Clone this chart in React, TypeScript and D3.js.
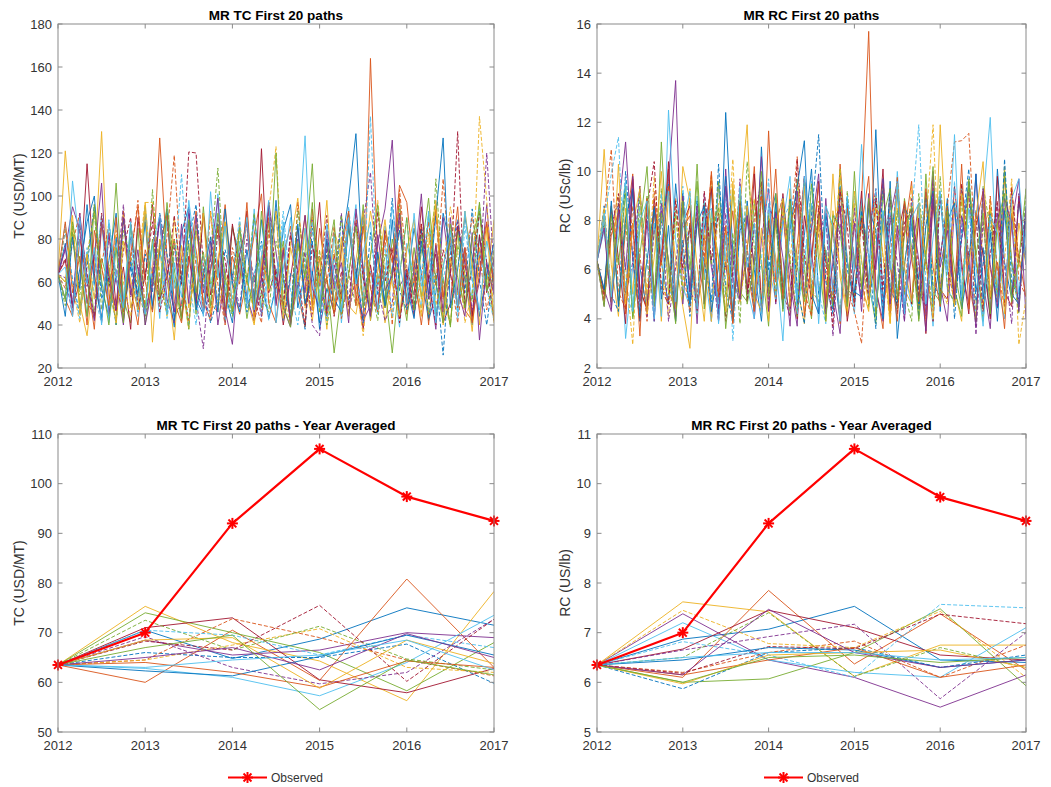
import React from 'react';
import * as d3 from 'd3';

// MATLAB default colour order
const palette = ['#0072BD', '#D95319', '#EDB120', '#7E2F8E', '#77AC30', '#4DBEEE', '#A2142F'];

const years = [2012, 2013, 2014, 2015, 2016, 2017];
const tcMonthlyTicks = [20, 40, 60, 80, 100, 120, 140, 160, 180];
const rcMonthlyTicks = [2, 4, 6, 8, 10, 12, 14, 16];
const tcYearTicks = [50, 60, 70, 80, 90, 100, 110];
const rcYearTicks = [5, 6, 7, 8, 9, 10, 11];

// ---- TC simulated monthly paths (USD/MT), Jan 2012 .. Jan 2017 ----
const tc01 = [63.5, 78, 49, 66, 88, 100, 57, 44, 81, 42, 70, 53, 92, 47, 74, 61, 39, 83, 95, 52, 45, 66, 87, 55, 41, 72, 50, 91, 62, 43, 58, 84, 96, 48, 65, 79, 38, 57, 46, 76, 99, 129, 62, 44, 73, 51, 89, 45, 60, 85, 64, 42, 55, 92, 77, 48, 63, 40, 81, 61, 70];
const tc02 = [63.5, 52, 44, 80, 62, 38, 86, 66, 47, 93, 57, 40, 75, 64, 127, 71, 46, 49, 88, 75, 51, 42, 67, 96, 58, 45, 61, 82, 101, 50, 41, 73, 86, 55, 39, 94, 58, 79, 46, 60, 92, 54, 43, 164, 70, 48, 63, 99, 45, 61, 87, 40, 78, 52, 66, 95, 47, 42, 71, 88, 56];
const tc03 = [63.5, 121, 82, 50, 35, 66, 130, 54, 43, 91, 48, 60, 97, 58, 76, 44, 90, 61, 39, 83, 64, 50, 46, 88, 62, 85, 52, 40, 69, 95, 59, 47, 78, 99, 60, 42, 71, 38, 84, 72, 49, 45, 65, 93, 74, 41, 63, 90, 51, 62, 44, 77, 98, 53, 40, 86, 63, 37, 76, 59, 89];
const tc04 = [63.5, 75, 95, 84, 50, 72, 106, 45, 62, 40, 81, 66, 47, 60, 89, 52, 41, 71, 92, 57, 46, 79, 40, 63, 85, 72, 53, 42, 61, 97, 74, 48, 39, 80, 55, 90, 62, 44, 68, 53, 87, 66, 42, 49, 78, 94, 126, 58, 64, 44, 83, 61, 38, 90, 64, 49, 76, 45, 60, 96, 55];
const tc05 = [63.5, 60, 83, 48, 73, 44, 71, 58, 106, 52, 41, 85, 40, 64, 50, 92, 61, 42, 78, 45, 95, 59, 66, 46, 86, 70, 43, 63, 48, 88, 60, 79, 41, 58, 74, 115, 50, 62, 27, 55, 85, 60, 96, 43, 64, 48, 80, 61, 42, 76, 53, 91, 45, 62, 39, 84, 48, 69, 97, 56, 63];
const tc06 = [63.5, 52, 107, 76, 44, 62, 91, 41, 66, 52, 85, 47, 64, 77, 43, 90, 57, 70, 39, 86, 62, 48, 101, 60, 45, 79, 50, 94, 44, 63, 55, 88, 40, 74, 128, 52, 64, 47, 83, 41, 72, 96, 50, 65, 45, 86, 62, 39, 78, 63, 48, 93, 42, 67, 84, 46, 73, 52, 94, 69, 44];
const tc07 = [63.5, 70, 48, 60, 115, 64, 42, 83, 49, 67, 38, 90, 61, 96, 52, 63, 80, 43, 72, 50, 92, 54, 70, 41, 87, 64, 93, 47, 122, 55, 66, 40, 62, 85, 49, 63, 97, 45, 73, 52, 88, 61, 38, 68, 47, 84, 72, 43, 66, 54, 95, 61, 73, 41, 50, 86, 69, 44, 82, 55, 71];
const tc08 = [63.5, 84, 61, 45, 67, 96, 52, 63, 40, 89, 66, 46, 73, 55, 92, 73, 44, 49, 80, 96, 57, 41, 53, 75, 61, 87, 46, 63, 79, 58, 94, 42, 64, 60, 38, 85, 62, 73, 45, 91, 50, 66, 41, 83, 54, 62, 99, 56, 47, 60, 85, 43, 64, 26, 73, 89, 55, 94, 61, 40, 66];
const tc09 = [63.5, 57, 78, 92, 51, 44, 68, 87, 63, 43, 70, 98, 46, 61, 54, 81, 119, 62, 42, 72, 48, 93, 59, 40, 76, 63, 89, 52, 41, 84, 57, 64, 42, 97, 61, 45, 72, 59, 86, 43, 62, 92, 48, 64, 57, 81, 40, 103, 67, 45, 62, 88, 58, 108, 64, 41, 69, 90, 73, 47, 63];
const tc10 = [63.5, 85, 58, 41, 73, 92, 67, 49, 84, 60, 44, 69, 97, 97, 63, 45, 80, 59, 38, 86, 61, 93, 47, 64, 52, 88, 60, 46, 71, 93, 123, 54, 40, 79, 48, 90, 62, 42, 75, 51, 89, 60, 35, 72, 98, 64, 43, 87, 61, 70, 46, 83, 49, 66, 95, 74, 41, 55, 137, 98, 42];
const tc11 = [63.5, 62, 45, 90, 58, 74, 41, 82, 60, 96, 53, 68, 44, 63, 91, 46, 76, 59, 94, 52, 29, 71, 89, 45, 64, 48, 80, 61, 44, 97, 62, 49, 83, 57, 74, 40, 35, 76, 59, 92, 45, 63, 88, 111, 57, 42, 50, 90, 61, 46, 77, 60, 93, 42, 64, 88, 69, 47, 62, 120, 65];
const tc12 = [63.5, 49, 86, 54, 71, 93, 47, 68, 40, 84, 72, 58, 43, 103, 60, 45, 79, 62, 38, 87, 58, 73, 113, 56, 44, 77, 60, 92, 53, 46, 79, 64, 45, 93, 68, 50, 75, 40, 56, 91, 64, 49, 87, 58, 42, 73, 61, 96, 49, 68, 82, 45, 108, 60, 40, 77, 64, 51, 97, 59, 43];
const tc13 = [63.5, 87, 60, 43, 76, 54, 41, 89, 62, 48, 81, 44, 95, 59, 78, 43, 65, 110, 61, 40, 72, 57, 86, 42, 63, 90, 48, 64, 77, 42, 61, 93, 56, 40, 69, 88, 55, 42, 71, 57, 95, 60, 49, 137, 58, 77, 44, 63, 90, 49, 64, 92, 46, 61, 78, 43, 86, 60, 74, 57, 42];
const tc14 = [63.5, 71, 49, 87, 64, 43, 92, 60, 46, 75, 90, 48, 63, 88, 46, 62, 91, 59, 120.5, 120, 67, 44, 84, 70, 47, 63, 88, 42, 55, 96, 61, 49, 82, 64, 40, 77, 62, 91, 44, 65, 49, 88, 62, 46, 93, 60, 76, 41, 64, 48, 87, 61, 40, 75, 63, 130, 49, 66, 92, 69, 42];
const tc15 = [63.5, 44, 81, 57, 96, 60, 43, 70, 92, 48, 67, 55, 88, 49, 75, 94, 42, 62, 88, 47, 63, 81, 46, 94, 60, 46, 75, 52, 89, 58, 98, 61, 43, 87, 50, 65, 41, 80, 52, 46, 88, 60, 93, 42, 74, 49, 66, 84, 58, 43, 79, 54, 91, 127, 48, 66, 90, 72, 44, 64, 78];
const tc16 = [63.5, 88, 55, 72, 40, 84, 67, 49, 90, 46, 73, 95, 60, 46, 77, 91, 51, 41, 69, 93, 48, 65, 86, 44, 72, 59, 97, 44, 66, 90, 50, 76, 41, 62, 91, 48, 85, 61, 45, 75, 93, 49, 86, 57, 46, 82, 69, 105, 97, 64, 40, 68, 94, 53, 81, 48, 76, 41, 64, 87, 60];
const tc17 = [63.5, 60, 91, 45, 73, 52, 88, 66, 41, 79, 61, 47, 95, 32, 80, 62, 33, 77, 48, 64, 92, 45, 71, 88, 47, 64, 89, 41, 72, 56, 93, 43, 76, 60, 85, 47, 63, 98, 47, 81, 44, 70, 93, 42, 65, 89, 59, 44, 75, 89, 52, 67, 96, 40, 71, 54, 93, 68, 40, 85, 41];
const tc18 = [63.5, 76, 49, 92, 61, 42, 88, 63, 47, 90, 54, 75, 40, 58, 91, 64, 46, 87, 50, 91, 55, 72, 99, 47, 31, 73, 88, 46, 62, 95, 49, 75, 40, 67, 91, 57, 48, 84, 57, 69, 41, 94, 66, 44, 82, 56, 63, 92, 49, 65, 101, 52, 77, 46, 90, 56, 44, 83, 33, 69, 54];
const tc19 = [63.5, 52, 88, 69, 44, 96, 61, 40, 76, 41, 87, 61, 48, 80, 53, 97, 66, 43, 89, 55, 74, 49, 92, 62, 46, 85, 61, 48, 93, 57, 120, 49, 39, 78, 62, 97, 46, 70, 89, 45, 64, 86, 48, 72, 96, 57, 27, 63, 90, 47, 74, 99, 60, 41, 87, 62, 48, 81, 93, 56, 75];
const tc20 = [63.5, 67, 44, 90, 59, 76, 40, 88, 62, 48, 88, 60, 45, 77, 91, 46, 69, 53, 98, 71, 44, 102, 62, 86, 49, 64, 90, 47, 72, 98, 41, 66, 90, 53, 85, 61, 48, 87, 62, 46, 90, 59, 74, 88, 47, 63, 95, 69, 50, 92, 58, 76, 41, 67, 83, 49, 93, 61, 47, 79, 64];
const tcPaths = [tc01, tc02, tc03, tc04, tc05, tc06, tc07, tc08, tc09, tc10, tc11, tc12, tc13, tc14, tc15, tc16, tc17, tc18, tc19, tc20];

// ---- RC simulated monthly paths (USc/lb), Jan 2012 .. Jan 2017 ----
const rc01 = [6.35, 7.9, 4.8, 8.7, 5.0, 9.2, 6.1, 4.3, 8.6, 6.3, 4.6, 9.5, 6.6, 4.5, 8.1, 5.6, 9.4, 4.2, 12.4, 6.7, 4.8, 8.8, 6.0, 3.9, 7.8, 9.1, 5.2, 8.9, 4.6, 7.4, 10.1, 5.0, 6.8, 4.4, 9.3, 6.3, 4.9, 8.3, 5.4, 11.7, 4.7, 7.1, 9.2, 4.2, 7.9, 5.6, 9.0, 4.5, 6.4, 8.9, 4.6, 7.3, 9.6, 5.1, 6.9, 4.1, 10.1, 6.3, 4.8, 8.8, 6.6];
const rc02 = [6.35, 5.1, 8.6, 4.6, 7.6, 9.9, 5.2, 4.4, 8.3, 6.2, 10.1, 4.9, 6.9, 8.9, 4.5, 7.4, 3.9, 9.6, 6.1, 8.4, 4.8, 6.8, 10.2, 4.4, 11.65, 5.5, 8.9, 4.5, 7.0, 9.7, 4.2, 8.1, 5.6, 4.7, 10.3, 6.4, 4.6, 8.8, 15.7, 5.3, 3.6, 8.9, 4.9, 7.5, 9.6, 4.4, 6.6, 8.7, 5.0, 7.9, 4.6, 9.4, 5.5, 3.9, 8.7, 6.0, 4.8, 9.8, 6.3, 4.5, 8.4];
const rc03 = [6.35, 10.9, 6.2, 4.1, 8.5, 5.0, 9.4, 4.6, 7.8, 3.9, 9.1, 6.4, 4.5, 2.8, 8.3, 5.6, 9.8, 4.4, 7.7, 4.0, 8.6, 11.9, 5.0, 4.3, 8.2, 6.5, 4.6, 9.3, 5.3, 3.8, 8.6, 6.9, 4.5, 9.9, 5.7, 4.1, 8.7, 5.4, 4.3, 9.0, 6.6, 4.0, 9.6, 5.2, 4.6, 8.5, 6.4, 9.8, 4.7, 8.2, 5.2, 3.9, 9.4, 6.5, 4.4, 8.9, 5.0, 10.2, 4.6, 7.9, 6.2];
const rc04 = [6.35, 5.2, 4.3, 8.4, 11.2, 6.4, 3.9, 8.9, 5.1, 6.6, 9.6, 13.7, 4.6, 7.9, 3.8, 8.7, 6.1, 4.4, 10.1, 5.6, 4.7, 8.5, 4.0, 7.2, 9.3, 4.6, 8.2, 5.5, 3.7, 9.8, 6.7, 4.2, 8.9, 5.1, 3.4, 8.6, 6.4, 4.8, 9.1, 5.2, 3.9, 8.1, 9.6, 4.5, 6.6, 8.7, 4.1, 10.0, 5.4, 3.9, 8.5, 6.0, 4.6, 9.9, 5.5, 3.6, 8.3, 4.9, 7.8, 9.7, 4.0];
const rc05 = [6.35, 8.2, 4.7, 7.2, 9.4, 4.1, 6.6, 9.0, 4.5, 11.2, 5.9, 3.9, 8.6, 5.2, 10.3, 4.6, 8.4, 6.4, 4.1, 9.3, 5.1, 4.7, 8.8, 6.2, 3.7, 9.1, 5.4, 4.3, 9.7, 6.0, 4.0, 8.3, 6.7, 4.5, 10.1, 5.2, 4.9, 8.6, 5.5, 3.8, 9.2, 6.2, 4.4, 8.9, 6.9, 4.0, 9.9, 5.1, 4.7, 8.6, 5.2, 4.1, 9.6, 6.6, 3.9, 8.5, 4.8, 10.0, 6.3, 4.5, 8.2];
const rc06 = [6.35, 7.6, 5.0, 8.6, 3.2, 6.1, 9.3, 4.6, 7.9, 4.1, 12.5, 7.2, 5.3, 4.5, 9.0, 6.0, 3.9, 9.6, 6.5, 4.4, 8.2, 5.3, 4.0, 9.2, 6.1, 4.8, 7.9, 9.8, 4.3, 6.3, 8.7, 3.8, 8.1, 5.0, 9.4, 6.4, 4.2, 8.9, 5.3, 4.1, 8.4, 4.9, 10.0, 6.0, 4.5, 8.6, 6.6, 3.7, 9.1, 5.2, 4.7, 9.3, 6.4, 4.3, 8.8, 12.2, 5.4, 4.0, 8.2, 5.0, 7.6];
const rc07 = [6.35, 5.0, 8.5, 6.5, 3.8, 9.7, 5.2, 4.4, 8.9, 6.2, 10.4, 4.6, 7.9, 8.6, 4.3, 7.7, 9.3, 4.8, 6.3, 3.9, 8.8, 5.1, 9.9, 4.5, 8.0, 4.7, 9.1, 6.1, 4.0, 8.2, 6.5, 9.6, 4.4, 7.8, 8.6, 3.9, 6.0, 9.2, 4.9, 6.4, 10.1, 4.2, 7.3, 8.7, 4.6, 8.1, 3.4, 8.9, 5.2, 4.8, 9.4, 6.3, 4.2, 8.4, 6.6, 4.0, 9.8, 5.1, 4.5, 9.0, 6.2];
const rc08 = [6.35, 8.6, 5.0, 4.3, 10.0, 6.5, 3.9, 8.3, 4.9, 7.9, 9.5, 4.6, 7.2, 4.1, 8.8, 6.3, 4.7, 10.3, 5.2, 3.9, 8.5, 6.6, 4.4, 9.3, 6.0, 8.1, 4.5, 8.9, 5.3, 3.8, 8.2, 11.5, 5.5, 4.2, 9.4, 6.0, 4.8, 8.4, 6.6, 3.6, 9.7, 5.2, 4.6, 8.6, 7.8, 4.1, 9.2, 5.4, 4.9, 8.7, 4.0, 7.7, 10.1, 4.7, 6.2, 8.3, 4.4, 10.5, 5.5, 4.8, 8.2];
const rc09 = [6.35, 8.2, 10.9, 5.1, 4.4, 8.6, 6.6, 3.9, 9.2, 5.4, 4.7, 8.9, 6.0, 4.3, 8.3, 6.5, 9.9, 4.9, 7.2, 3.8, 8.7, 6.9, 4.5, 9.5, 5.1, 8.2, 4.6, 7.6, 10.6, 5.1, 4.1, 8.5, 6.4, 4.8, 9.3, 5.2, 4.3, 3.0, 7.8, 9.0, 4.4, 6.4, 9.8, 5.0, 8.4, 6.1, 3.9, 9.2, 6.5, 8.6, 11.2, 11.25, 11.55, 6.3, 4.2, 9.0, 6.0, 4.5, 9.4, 5.6, 4.9];
const rc10 = [6.35, 7.9, 4.5, 9.0, 6.1, 2.95, 8.5, 5.0, 9.8, 6.4, 4.1, 8.2, 5.3, 9.3, 4.8, 7.6, 3.9, 8.7, 6.0, 10.5, 4.6, 6.9, 8.9, 4.2, 7.4, 4.9, 8.4, 6.3, 9.6, 4.2, 7.7, 8.8, 4.5, 6.1, 10.1, 4.7, 8.0, 5.3, 4.4, 9.1, 6.5, 3.8, 8.5, 6.0, 9.4, 4.8, 7.8, 11.9, 5.3, 4.6, 8.8, 5.1, 9.2, 4.0, 7.7, 8.5, 4.7, 6.4, 9.7, 2.95, 4.8];
const rc11 = [6.35, 4.5, 7.9, 8.7, 5.0, 6.3, 9.4, 4.1, 7.6, 8.4, 3.9, 6.1, 9.0, 5.1, 4.6, 9.1, 6.4, 3.9, 8.3, 5.2, 9.7, 4.7, 7.9, 4.3, 8.6, 7.8, 9.0, 4.4, 6.1, 9.8, 4.9, 7.5, 8.2, 3.3, 7.9, 4.6, 8.5, 4.9, 7.4, 9.3, 4.3, 8.1, 6.3, 3.9, 8.9, 5.1, 4.5, 9.5, 6.6, 8.3, 4.8, 7.2, 9.2, 3.35, 8.0, 4.9, 8.6, 6.1, 3.8, 9.1, 6.4];
const rc12 = [6.35, 5.1, 8.6, 4.7, 8.0, 4.1, 9.0, 6.3, 4.5, 9.3, 5.0, 8.4, 4.8, 7.9, 4.2, 8.7, 6.2, 9.6, 4.9, 7.5, 3.8, 10.4, 6.9, 4.6, 8.3, 5.0, 8.9, 6.4, 4.1, 9.7, 5.2, 4.7, 8.6, 7.7, 4.0, 9.2, 6.3, 8.2, 4.5, 7.6, 9.5, 4.9, 8.4, 5.1, 3.9, 9.1, 6.5, 4.4, 9.8, 5.3, 4.6, 8.8, 6.0, 3.9, 9.4, 7.7, 4.9, 8.5, 6.3, 4.2, 9.3];
const rc13 = [6.35, 8.0, 9.9, 11.4, 5.0, 4.3, 8.6, 6.5, 3.9, 9.1, 5.2, 4.7, 9.4, 6.3, 4.2, 8.8, 7.9, 4.6, 9.2, 3.1, 7.7, 8.4, 4.4, 6.4, 9.7, 4.8, 8.0, 8.7, 4.2, 6.2, 9.6, 5.1, 3.8, 8.3, 7.7, 4.5, 9.0, 6.3, 4.9, 9.3, 4.1, 8.6, 5.2, 4.6, 8.1, 11.9, 5.4, 4.3, 8.8, 6.0, 9.6, 4.7, 7.9, 8.4, 3.9, 7.6, 4.8, 9.1, 6.2, 4.4, 8.3];
const rc14 = [6.35, 4.8, 7.6, 9.1, 4.4, 7.9, 4.0, 8.5, 10.4, 5.2, 4.6, 8.8, 6.0, 7.8, 4.3, 9.2, 6.4, 8.3, 3.9, 6.0, 8.7, 4.7, 8.1, 9.6, 4.5, 8.4, 5.1, 4.1, 10.5, 6.6, 4.8, 8.6, 6.3, 3.7, 9.2, 7.8, 4.5, 8.1, 4.6, 8.9, 5.2, 9.3, 4.2, 7.9, 8.5, 4.9, 6.4, 3.9, 9.0, 6.1, 4.7, 9.5, 6.5, 8.2, 4.3, 6.6, 8.8, 4.5, 9.3, 6.3, 8.4];
const rc15 = [6.35, 5.2, 8.8, 4.5, 8.1, 9.3, 4.1, 6.4, 8.5, 4.8, 7.8, 3.9, 9.1, 4.6, 7.9, 8.6, 4.3, 6.1, 9.8, 4.0, 7.6, 8.2, 4.7, 11.0, 5.3, 8.7, 4.4, 7.7, 9.4, 11.25, 5.0, 4.2, 8.3, 6.4, 3.9, 8.9, 5.1, 4.9, 8.5, 7.6, 4.0, 9.6, 3.2, 6.2, 8.3, 4.6, 7.8, 9.2, 4.3, 8.0, 8.7, 4.4, 6.2, 9.9, 4.8, 7.5, 3.9, 8.4, 5.0, 4.6, 8.6];
const rc16 = [6.35, 4.7, 7.4, 8.3, 4.2, 7.9, 3.3, 8.9, 5.0, 6.4, 9.4, 4.4, 7.7, 8.2, 4.5, 6.2, 10.0, 4.9, 7.8, 3.8, 8.6, 6.1, 4.3, 9.0, 6.4, 10.1, 4.8, 7.9, 8.7, 4.1, 6.3, 9.5, 4.6, 7.9, 3.8, 8.5, 6.0, 7.7, 9.8, 4.3, 8.2, 6.2, 3.9, 8.8, 6.4, 4.7, 9.3, 6.1, 4.5, 8.5, 5.0, 10.3, 4.4, 7.8, 9.2, 4.8, 6.3, 3.6, 8.3, 6.5, 4.9];
const rc17 = [6.35, 8.5, 5.0, 10.3, 4.6, 7.8, 9.3, 4.2, 6.5, 10.0, 5.1, 4.4, 10.2, 8.8, 6.2, 3.9, 8.1, 6.5, 4.3, 9.6, 5.0, 8.6, 4.7, 7.7, 3.9, 7.9, 8.9, 4.5, 6.3, 9.4, 4.9, 7.8, 3.9, 8.4, 6.0, 4.3, 9.2, 6.4, 4.6, 8.5, 7.9, 3.8, 9.5, 6.1, 4.7, 8.7, 6.3, 4.0, 11.9, 6.6, 4.5, 9.1, 6.2, 8.2, 10.4, 4.9, 7.9, 4.2, 8.6, 6.1, 6.9];
const rc18 = [6.35, 7.7, 4.4, 8.5, 6.0, 9.8, 4.7, 8.0, 3.9, 8.7, 6.3, 4.1, 9.0, 5.1, 8.6, 4.6, 7.9, 3.9, 9.4, 6.4, 4.8, 8.2, 6.2, 10.6, 4.3, 8.3, 6.5, 3.7, 9.2, 4.9, 7.7, 9.9, 4.2, 6.3, 8.6, 4.7, 7.9, 4.3, 8.8, 6.0, 9.7, 4.6, 7.8, 3.9, 8.4, 6.4, 3.5, 9.1, 6.1, 7.6, 4.8, 8.2, 6.3, 3.7, 9.3, 6.2, 4.5, 8.9, 7.9, 4.3, 8.5];
const rc19 = [6.35, 4.5, 8.2, 6.2, 9.1, 4.0, 7.7, 10.2, 4.8, 8.3, 6.4, 3.8, 8.8, 6.0, 9.6, 4.4, 7.8, 8.5, 3.6, 6.5, 9.2, 4.6, 6.2, 10.0, 4.9, 8.1, 4.3, 8.8, 6.1, 4.7, 9.5, 6.4, 3.9, 8.2, 7.7, 4.5, 10.0, 5.2, 8.9, 4.1, 8.1, 9.3, 4.8, 7.4, 8.6, 3.9, 6.7, 10.2, 4.6, 8.4, 6.0, 4.4, 9.7, 6.6, 8.3, 4.2, 7.9, 9.1, 4.7, 6.4, 9.3];
const rc20 = [6.35, 8.3, 4.9, 7.7, 9.6, 4.3, 8.0, 8.8, 4.0, 7.2, 9.2, 4.7, 7.8, 9.2, 4.4, 8.1, 8.5, 3.8, 7.4, 4.9, 9.4, 6.1, 7.9, 4.2, 8.7, 6.3, 3.1, 8.2, 4.8, 9.8, 6.2, 4.5, 8.6, 7.8, 3.9, 9.0, 6.0, 11.1, 6.4, 4.5, 8.4, 6.0, 9.5, 4.2, 8.1, 8.7, 4.6, 7.3, 9.2, 5.8, 11.5, 4.9, 8.5, 6.1, 3.7, 8.2, 7.5, 4.8, 8.9, 9.7, 6.2];
const rcPaths = [rc01, rc02, rc03, rc04, rc05, rc06, rc07, rc08, rc09, rc10, rc11, rc12, rc13, rc14, rc15, rc16, rc17, rc18, rc19, rc20];

// ---- Year averaged TC paths (2012 start value, then annual means) ----
const tcYr01 = [63.5, 70.5, 64.8, 68.7, 75.0, 71.5];
const tcYr02 = [63.5, 60.0, 70.5, 60.4, 80.8, 63.0];
const tcYr03 = [63.5, 75.3, 68.0, 64.3, 56.3, 78.3];
const tcYr04 = [63.5, 68.5, 65.5, 66.5, 70.0, 69.0];
const tcYr05 = [63.5, 74.0, 70.0, 66.0, 58.3, 68.0];
const tcYr06 = [63.5, 62.8, 61.0, 57.3, 64.0, 73.5];
const tcYr07 = [63.5, 71.0, 73.0, 60.5, 57.9, 62.8];
const tcYr08 = [63.5, 66.0, 65.0, 65.0, 67.7, 59.8];
const tcYr09 = [63.5, 64.5, 72.8, 69.0, 64.5, 61.3];
const tcYr10 = [63.5, 64.5, 67.5, 70.8, 63.0, 62.0];
const tcYr11 = [63.5, 69.2, 63.0, 59.7, 62.0, 72.7];
const tcYr12 = [63.5, 72.5, 66.5, 71.3, 64.7, 62.5];
const tcYr13 = [63.5, 70.5, 69.5, 65.5, 69.5, 67.0];
const tcYr14 = [63.5, 68.3, 66.5, 75.5, 60.2, 72.7];
const tcYr15 = [63.5, 62.3, 61.3, 65.2, 69.5, 65.5];
const tcYr16 = [63.5, 64.0, 62.0, 59.0, 64.3, 63.0];
const tcYr17 = [63.5, 68.5, 69.0, 58.8, 68.5, 63.8];
const tcYr18 = [63.5, 65.0, 67.0, 62.5, 69.8, 65.0];
const tcYr19 = [63.5, 67.0, 69.5, 54.5, 64.5, 61.5];
const tcYr20 = [63.5, 63.0, 64.5, 65.5, 68.5, 62.5];
const tcYearPaths = [tcYr01, tcYr02, tcYr03, tcYr04, tcYr05, tcYr06, tcYr07, tcYr08, tcYr09, tcYr10, tcYr11, tcYr12, tcYr13, tcYr14, tcYr15, tcYr16, tcYr17, tcYr18, tcYr19, tcYr20];
const tcObserved = [63.5, 70.0, 92.0, 107.0, 97.4, 92.5];

// ---- Year averaged RC paths ----
const rcYr01 = [6.35, 6.87, 7.07, 7.53, 6.45, 6.4];
const rcYr02 = [6.35, 6.1, 7.85, 6.37, 7.38, 6.25];
const rcYr03 = [6.35, 7.62, 7.42, 6.12, 6.75, 6.75];
const rcYr04 = [6.35, 7.38, 6.45, 6.1, 5.5, 6.15];
const rcYr05 = [6.35, 6.0, 6.07, 6.6, 7.48, 5.93];
const rcYr06 = [6.35, 7.2, 6.45, 6.2, 6.1, 7.1];
const rcYr07 = [6.35, 6.67, 7.45, 7.1, 6.55, 6.45];
const rcYr08 = [6.35, 5.87, 6.6, 6.7, 6.3, 6.55];
const rcYr09 = [6.35, 6.2, 6.6, 6.83, 6.1, 6.75];
const rcYr10 = [6.35, 7.45, 6.78, 6.7, 7.43, 6.1];
const rcYr11 = [6.35, 6.65, 6.92, 7.17, 5.67, 7.0];
const rcYr12 = [6.35, 6.5, 7.4, 6.12, 6.7, 6.3];
const rcYr13 = [6.35, 6.82, 6.55, 6.1, 7.57, 7.5];
const rcYr14 = [6.35, 6.18, 6.72, 6.68, 7.37, 7.18];
const rcYr15 = [6.35, 6.45, 6.7, 6.65, 6.3, 6.45];
const rcYr16 = [6.35, 6.15, 6.45, 6.7, 6.1, 6.35];
const rcYr17 = [6.35, 5.97, 6.55, 6.6, 6.65, 6.3];
const rcYr18 = [6.35, 6.15, 7.47, 6.6, 6.3, 6.45];
const rcYr19 = [6.35, 6.0, 6.5, 6.55, 6.4, 6.5];
const rcYr20 = [6.35, 6.5, 6.6, 6.6, 6.45, 6.5];
const rcYearPaths = [rcYr01, rcYr02, rcYr03, rcYr04, rcYr05, rcYr06, rcYr07, rcYr08, rcYr09, rcYr10, rcYr11, rcYr12, rcYr13, rcYr14, rcYr15, rcYr16, rcYr17, rcYr18, rcYr19, rcYr20];
const rcObserved = [6.35, 7.0, 9.2, 10.7, 9.73, 9.25];

const FONT = '"Liberation Sans", Arial, Helvetica, sans-serif';
const AXIS_COLOR = '#8a8a8a';
const TEXT_COLOR = '#333333';
const OBS_COLOR = '#FF0000';
const TICK_LEN = 4.5;

function dashFor(i: number): string | undefined {
  return i >= 7 && i < 14 ? '4,2' : undefined;
}

function Asterisk({ cx, cy, r = 4.5 }: { cx: number; cy: number; r?: number }) {
  const d = r * 0.72;
  return (
    <g stroke={OBS_COLOR} strokeWidth={2} strokeLinecap="square">
      <line x1={cx - r} y1={cy} x2={cx + r} y2={cy} />
      <line x1={cx} y1={cy - r} x2={cx} y2={cy + r} />
      <line x1={cx - d} y1={cy - d} x2={cx + d} y2={cy + d} />
      <line x1={cx - d} y1={cy + d} x2={cx + d} y2={cy - d} />
    </g>
  );
}

type PanelProps = {
  id: string;
  x0: number;
  x1: number;
  y0: number;
  y1: number;
  yDomain: [number, number];
  yTicks: number[];
  title: string;
  yLabel: string;
  yLabelX: number;
  series: number[][];
  monthly: boolean;
  observed?: number[];
};

function Panel(p: PanelProps) {
  const x = d3.scaleLinear().domain([2012, 2017]).range([p.x0, p.x1]);
  const y = d3.scaleLinear().domain(p.yDomain).range([p.y1, p.y0]);
  const line = d3
    .line<number>()
    .x((_, i) => x(p.monthly ? 2012 + i / 12 : years[i]))
    .y((d) => y(d));
  const cx = (p.x0 + p.x1) / 2;
  const cy = (p.y0 + p.y1) / 2;
  return (
    <g>
      <defs>
        <clipPath id={p.id}>
          <rect x={p.x0} y={p.y0} width={p.x1 - p.x0} height={p.y1 - p.y0} />
        </clipPath>
      </defs>
      <g clipPath={`url(#${p.id})`} fill="none">
        {p.series.map((s, i) => (
          <path
            key={i}
            d={line(s) || ''}
            stroke={palette[i % palette.length]}
            strokeWidth={0.9}
            strokeDasharray={dashFor(i)}
            strokeLinejoin="round"
          />
        ))}
      </g>
      {p.observed && (
        <g>
          <path d={line(p.observed) || ''} fill="none" stroke={OBS_COLOR} strokeWidth={2.2} strokeLinejoin="round" />
          {p.observed.map((v, i) => (
            <Asterisk key={i} cx={x(years[i])} cy={y(v)} />
          ))}
        </g>
      )}
      {/* axes box with inward ticks on all four sides */}
      <rect x={p.x0} y={p.y0} width={p.x1 - p.x0} height={p.y1 - p.y0} fill="none" stroke={AXIS_COLOR} strokeWidth={1} />
      <g stroke={AXIS_COLOR} strokeWidth={1}>
        {years.map((t) => (
          <g key={t}>
            <line x1={x(t)} x2={x(t)} y1={p.y1} y2={p.y1 - TICK_LEN} />
            <line x1={x(t)} x2={x(t)} y1={p.y0} y2={p.y0 + TICK_LEN} />
          </g>
        ))}
        {p.yTicks.map((t) => (
          <g key={t}>
            <line x1={p.x0} x2={p.x0 + TICK_LEN} y1={y(t)} y2={y(t)} />
            <line x1={p.x1} x2={p.x1 - TICK_LEN} y1={y(t)} y2={y(t)} />
          </g>
        ))}
      </g>
      <g fontFamily={FONT} fontSize={13} fill={TEXT_COLOR}>
        {years.map((t) => (
          <text key={t} x={x(t)} y={p.y1 + 18} textAnchor="middle">
            {t}
          </text>
        ))}
        {p.yTicks.map((t) => (
          <text key={t} x={p.x0 - 6} y={y(t)} dy="0.35em" textAnchor="end">
            {t}
          </text>
        ))}
        <text
          transform={`translate(${p.yLabelX},${cy}) rotate(-90)`}
          textAnchor="middle"
          dy="0.35em"
          fontSize={14}
        >
          {p.yLabel}
        </text>
      </g>
      <text x={cx} y={p.y0 - 4.5} textAnchor="middle" fontFamily={FONT} fontSize={13.5} fontWeight="bold" fill="#000">
        {p.title}
      </text>
    </g>
  );
}

function Legend({ x, y }: { x: number; y: number }) {
  return (
    <g>
      <line x1={x} x2={x + 39} y1={y} y2={y} stroke={OBS_COLOR} strokeWidth={2} />
      <Asterisk cx={x + 19.5} cy={y} />
      <text x={x + 43} y={y} dy="0.35em" fontFamily={FONT} fontSize={12} fill={TEXT_COLOR}>
        Observed
      </text>
    </g>
  );
}

export default function App() {
  return (
    <svg
      width={1051}
      height={787}
      viewBox="0 0 1051 787"
      style={{ position: 'absolute', left: 0, top: 0, background: '#fff', display: 'block' }}
    >
      <rect width={1051} height={787} fill="#fff" />
      <Panel
        id="clip-tc-m"
        x0={58}
        x1={494}
        y0={24}
        y1={368}
        yDomain={[20, 180]}
        yTicks={tcMonthlyTicks}
        title="MR TC First 20 paths"
        yLabel="TC (USD/MT)"
        yLabelX={19}
        series={tcPaths}
        monthly
      />
      <Panel
        id="clip-rc-m"
        x0={597}
        x1={1026}
        y0={24}
        y1={368}
        yDomain={[2, 16]}
        yTicks={rcMonthlyTicks}
        title="MR RC First 20 paths"
        yLabel="RC (USc/lb)"
        yLabelX={565}
        series={rcPaths}
        monthly
      />
      <Panel
        id="clip-tc-y"
        x0={58}
        x1={494}
        y0={434}
        y1={732}
        yDomain={[50, 110]}
        yTicks={tcYearTicks}
        title="MR TC First 20 paths - Year Averaged"
        yLabel="TC (USD/MT)"
        yLabelX={19}
        series={tcYearPaths}
        monthly={false}
        observed={tcObserved}
      />
      <Panel
        id="clip-rc-y"
        x0={597}
        x1={1026}
        y0={434}
        y1={732}
        yDomain={[5, 11]}
        yTicks={rcYearTicks}
        title="MR RC First 20 paths - Year Averaged"
        yLabel="RC (US/lb)"
        yLabelX={565}
        series={rcYearPaths}
        monthly={false}
        observed={rcObserved}
      />
      <Legend x={228} y={777.5} />
      <Legend x={764} y={777.5} />
    </svg>
  );
}
